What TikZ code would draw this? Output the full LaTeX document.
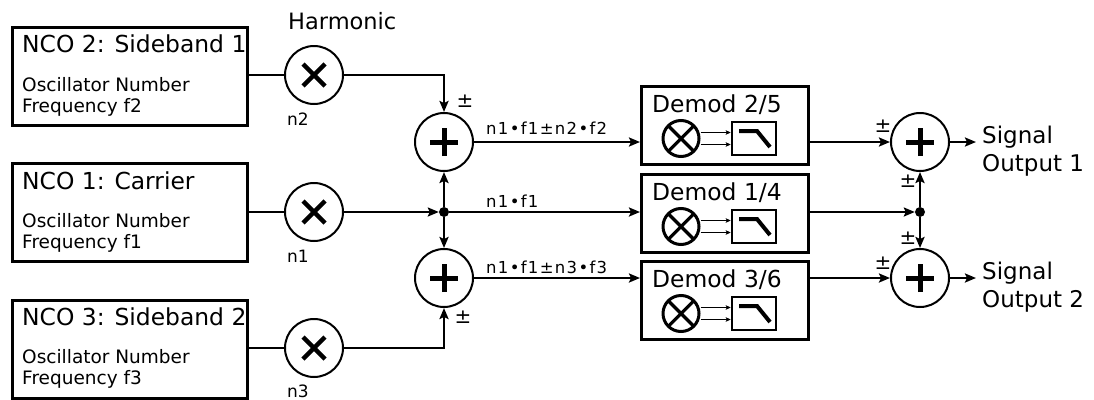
\documentclass[tikz,border=0pt]{standalone}
\usepackage{fontspec}
\setmainfont{DejaVu Sans}
\newfontfamily\lblfont[LetterSpace=8]{DejaVu Sans}
\usetikzlibrary{arrows.meta}
\begin{document}
\begin{tikzpicture}[x=1pt,y=-1pt,
  ncobox/.style={draw, line width=3pt, minimum width=235pt, minimum height=98pt, anchor=north west, inner sep=0pt},
  dembox/.style={draw, line width=3pt, minimum width=167pt, minimum height=78pt, anchor=north west, inner sep=0pt},
  ttl/.style={anchor=base west, inner sep=0pt, font=\fontsize{23.4}{28}\selectfont},
  subt/.style={anchor=base west, inner sep=0pt, font=\fontsize{18.5}{21}\selectfont},
  harmt/.style={anchor=base west, inner sep=0pt, font=\fontsize{22.5}{27}\selectfont},
  nlab/.style={anchor=base west, inner sep=0pt, font=\fontsize{17}{20}\selectfont},
  pm/.style={anchor=base, inner sep=0pt, font=\fontsize{20}{24}\selectfont},
  sig/.style={anchor=base west, inner sep=0pt, font=\lblfont\fontsize{16.5}{20}\selectfont},
  outt/.style={anchor=base west, inner sep=0pt, font=\fontsize{23}{28}\selectfont},
  mult/.style={draw, circle, line width=2pt, minimum size=58pt, inner sep=0pt,
    path picture={\draw[line width=4.5pt] (path picture bounding box.center) ++(-11pt,-11pt) -- ++(22pt,22pt)
      (path picture bounding box.center) ++(-11pt,11pt) -- ++(22pt,-22pt);}},
  adder/.style={draw, circle, line width=2pt, minimum size=58pt, inner sep=0pt,
    path picture={\draw[line width=5pt] (path picture bounding box.center) ++(-14pt,0pt) -- ++(28pt,0pt)
      (path picture bounding box.center) ++(0pt,-14pt) -- ++(0pt,28pt);}},
  mixc/.style={draw, circle, line width=3pt, minimum size=36pt, inner sep=0pt,
    path picture={\draw[line width=3.2pt] (path picture bounding box.south west) -- (path picture bounding box.north east)
      (path picture bounding box.north west) -- (path picture bounding box.south east);}},
  lpf/.style={draw, line width=2.5pt, minimum width=44pt, minimum height=33pt, inner sep=0pt,
    path picture={\draw[line width=4pt] (path picture bounding box.center) ++(-15pt,7.5pt) -- ++(18pt,0pt) -- ++(13pt,-16pt);}},
  jdot/.style={circle, fill, minimum size=10pt, inner sep=0pt},
  ln/.style={line width=2.5pt},
  arr/.style={line width=2.5pt, -{Stealth[length=11pt,width=9pt,inset=2pt]}},
  sarr/.style={line width=1.5pt, -{Stealth[length=5pt,width=4.5pt,inset=1pt]}}
]
\useasboundingbox (0,0) rectangle (1094,399);

% NCO boxes
\node[ncobox] (nco2) at (11,26) {};
\node[ncobox] (nco1) at (11,162) {};
\node[ncobox] (nco3) at (11,299) {};
\node[ttl] (nco2t) at (22,52) {NCO 2: Sideband 1};
\node[subt] (nco2a) at (22,91) {Oscillator Number};
\node[subt] (nco2b) at (22,112) {Frequency f2};
\node[ttl] (nco1t) at (22,189) {NCO 1: Carrier};
\node[subt] (nco1a) at (22,227) {Oscillator Number};
\node[subt] (nco1b) at (22,248) {Frequency f1};
\node[ttl] (nco3t) at (22,325) {NCO 3: Sideband 2};
\node[subt] (nco3a) at (22,363) {Oscillator Number};
\node[subt] (nco3b) at (22,384) {Frequency f3};

% harmonic multipliers
\node[mult] (m2) at (314,75) {};
\node[mult] (m1) at (314,212) {};
\node[mult] (m3) at (314,348) {};
\node[harmt] (harm) at (288,29) {Harmonic};
\node[nlab] (n2) at (287,125) {n2};
\node[nlab] (n1) at (287,262) {n1};
\node[nlab] (n3) at (287,397) {n3};

% left adders
\node[adder] (a1) at (444,142) {};
\node[adder] (a2) at (444,278) {};
\node[jdot] (j1) at (444,212) {};
\node[pm] (pa1) at (465,107) {±};
\node[pm] (pa2) at (463,323) {±};

% demod boxes
\node[dembox] (d25) at (640,85) {};
\node[dembox] (d14) at (640,173) {};
\node[dembox] (d36) at (640,260) {};
\node[ttl] (d25t) at (652,112) {Demod 2/5};
\node[ttl] (d14t) at (652,200) {Demod 1/4};
\node[ttl] (d36t) at (652,287) {Demod 3/6};
\node[mixc] (x25) at (681,138.5) {};
\node[mixc] (x14) at (681,226.5) {};
\node[mixc] (x36) at (681,313.5) {};
\node[lpf] (l25) at (754,138.5) {};
\node[lpf] (l14) at (754,226.5) {};
\node[lpf] (l36) at (754,313.5) {};
\foreach \n in {25,14,36}{
  \draw[sarr] ([yshift=6pt]x\n.east) -- ([yshift=6pt]x\n.east -| l\n.west);
  \draw[sarr] ([yshift=-6pt]x\n.east) -- ([yshift=-6pt]x\n.east -| l\n.west);
}

% signal labels
\node[sig] (s1) at (486,134) {n1•f1±n2•f2};
\node[sig] (s0) at (486,207) {n1•f1};
\node[sig] (s3) at (486,273) {n1•f1±n3•f3};

% right adders
\node[adder] (r1) at (920,142) {};
\node[adder] (r2) at (920,278) {};
\node[jdot] (j2) at (920,212) {};
\node[pm] (pr1) at (883,132) {±};
\node[pm] (pr1b) at (908,187) {±};
\node[pm] (pr2b) at (908,244) {±};
\node[pm] (pr2) at (883,269) {±};
\coordinate (o1) at (976,142);
\coordinate (o2) at (976,278);
\node[outt] (o1a) at (982,143) {Signal};
\node[outt] (o1b) at (982,171) {Output 1};
\node[outt] (o2a) at (982,279) {Signal};
\node[outt] (o2b) at (982,307) {Output 2};

% connectors
\draw[ln] (nco2.east |- m2) -- (m2);
\draw[ln] (nco1.east |- m1) -- (m1);
\draw[ln] (nco3.east |- m3) -- (m3);
\draw[arr] (m2) -| (a1);
\draw[arr] (m1) -- (j1);
\draw[arr] (m3) -| (a2);
\draw[arr] (j1) -- (a1);
\draw[arr] (j1) -- (a2);
\draw[arr] (a1) -- (a1 -| d25.west);
\draw[arr] (j1) -- (j1 -| d14.west);
\draw[arr] (a2) -- (a2 -| d36.west);
\draw[arr] (r1 -| d25.east) -- (r1);
\draw[arr] (j2 -| d14.east) -- (j2);
\draw[arr] (r2 -| d36.east) -- (r2);
\draw[arr] (j2) -- (r1);
\draw[arr] (j2) -- (r2);
\draw[arr] (r1) -- (o1);
\draw[arr] (r2) -- (o2);
\end{tikzpicture}
\end{document}
